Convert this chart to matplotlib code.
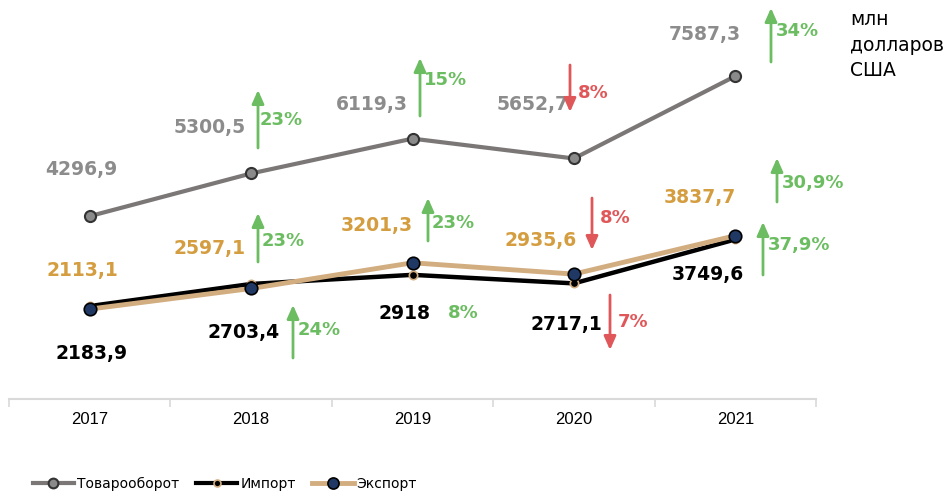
import matplotlib
matplotlib.use("Agg")
import matplotlib.pyplot as plt
from matplotlib.lines import Line2D
import matplotlib.patches as mpatches

years = ["2017", "2018", "2019", "2020", "2021"]
turnover = [4296.9, 5300.5, 6119.3, 5652.7, 7587.3]
imports = [2183.9, 2703.4, 2918.0, 2717.1, 3749.6]
exports = [2113.1, 2597.1, 3201.3, 2935.6, 3837.7]

turnover_pct = [None, "23%", "15%", "8%", "34%"]
turnover_up = [None, True, True, False, True]
exports_pct = [None, "23%", "23%", "8%", "30,9%"]
exports_up = [None, True, True, False, True]
imports_pct = [None, "24%", "8%", "7%", "37,9%"]
imports_up = [None, True, True, False, True]

def fmt(v):
    s = f"{v:.1f}".replace(".", ",")
    return s[:-2] if s.endswith(",0") else s

W, H = 948, 492
plt.rcParams['font.family'] = ['DejaVu Sans']
fig = plt.figure(figsize=(W / 100, H / 100), dpi=100)

def fx(x): return x / W
def fy(y): return 1 - y / H

ax_left, ax_right, ax_bottom, ax_top = 9, 816, 399, 16
ax = fig.add_axes([fx(ax_left), fy(ax_bottom), (ax_right - ax_left) / W, (ax_bottom - ax_top) / H])
ymax = (ax_bottom - ax_top) / 0.04255
ax.set_ylim(0, ymax)
ax.set_xlim(-0.5, 4.5)

x = list(range(len(years)))
GRAY = "#7b7777"
TAN = "#d2ad80"
NAVY = "#1f3864"
GOLD = "#d49d40"
LGRAY = "#8c8c8c"
GREEN = "#6cbd62"
RED = "#e0575a"

ax.plot(x, turnover, color=GRAY, lw=3, marker='o', ms=8, mfc="#8a8a8a", mec="#333333", mew=1.5, zorder=3)
ax.plot(x, imports, color="black", lw=3.2, marker='o', ms=6, mfc="black", mec=TAN, mew=1.2, zorder=3)
ax.plot(x, exports, color=TAN, lw=3.5, zorder=4)
ax.plot(x, exports, ls='none', marker='o', ms=9, mfc=NAVY, mec="black", mew=1.2, zorder=5)

for s in ['top', 'left', 'right']:
    ax.spines[s].set_visible(False)
ax.spines['bottom'].set_color("#d9d9d9")
ax.spines['bottom'].set_linewidth(1.5)
ax.set_yticks([])
ax.set_xticks(x)
ax.set_xticklabels(years, fontsize=12, family=['Liberation Sans'])
ax.tick_params(axis='x', which='major', length=0, pad=9)
ax.set_xticks([i - 0.5 for i in range(len(years) + 1)], minor=True)
ax.tick_params(axis='x', which='minor', length=6, color="#d9d9d9", width=1.2, direction='out')

# value label offsets in pixels (dx, dy), dy positive = up
t_off = [(-8, 47), (-41, 46), (-41, 34), (-41, 54), (-30, 42)]
e_off = [(-7, 39), (-42, 40), (-36, 37), (-33, 34), (-35, 38)]
i_off = [(2, -47), (-8, -49), (-8, -39), (-8, -41), (-27, -35)]

def label(vals, offs, color):
    for i, (v, (dx, dy)) in enumerate(zip(vals, offs)):
        ax.annotate(fmt(v), xy=(i, v), xytext=(dx, dy), textcoords='offset pixels',
                    ha='center', va='center', fontsize=13.5, fontweight='bold', color=color, zorder=6)

label(turnover, t_off, LGRAY)
label(exports, e_off, GOLD)
label(imports, i_off, "black")

# arrows: (x, y_tail, y_head) image pixels, text position
t_arrows = [None, (258, 148, 90, 260, 120), (420, 116, 58, 424, 80), (570, 65, 112, 578, 93), (771, 62, 8, 776, 31)]
e_arrows = [None, (258, 262, 213, 262, 241), (428, 241, 198, 432, 223), (592, 198, 250, 600, 218), (777, 202, 158, 782, 183)]
i_arrows = [None, (293, 358, 305, 298, 330), (None, None, None, 448, 313), (610, 295, 350, 618, 322), (763, 275, 222, 768, 245)]

def arrows(specs, pcts, ups):
    for spec, pct, up in zip(specs, pcts, ups):
        if spec is None:
            continue
        xa, yt, yh, xt, ytxt = spec
        col = GREEN if up else RED
        if xa is not None:
            fig.add_artist(mpatches.FancyArrowPatch(
                (fx(xa), fy(yt)), (fx(xa), fy(yh)), transform=fig.transFigure,
                arrowstyle='-|>,head_length=0.9,head_width=0.4', mutation_scale=9,
                color=col, lw=2, shrinkA=0, shrinkB=0))
        fig.text(fx(xt), fy(ytxt), pct, ha='left', va='center', fontsize=13, fontweight='bold', color=col)

arrows(t_arrows, turnover_pct, turnover_up)
arrows(e_arrows, exports_pct, exports_up)
arrows(i_arrows, imports_pct, imports_up)

fig.text(fx(850), fy(10), "млн\nдолларов\nСША", ha='left', va='top', fontsize=13.5, color="black", linespacing=1.45)

handles = [
    Line2D([], [], color=GRAY, lw=3, marker='o', ms=7, mfc="#8a8a8a", mec="#333333", mew=1.5),
    Line2D([], [], color="black", lw=3, marker='o', ms=5, mfc="black", mec=TAN, mew=1.2),
    Line2D([], [], color=TAN, lw=3.5, marker='o', ms=8, mfc=NAVY, mec="black", mew=1.2),
]
fig.legend(handles, ["Товарооборот", "Импорт", "Экспорт"], loc='center left',
           bbox_to_anchor=(fx(20), fy(484)), ncol=3, frameon=False, fontsize=10,
           handlelength=3.0, handletextpad=0.2, columnspacing=1.2)

fig.savefig("out.png", dpi=100)
